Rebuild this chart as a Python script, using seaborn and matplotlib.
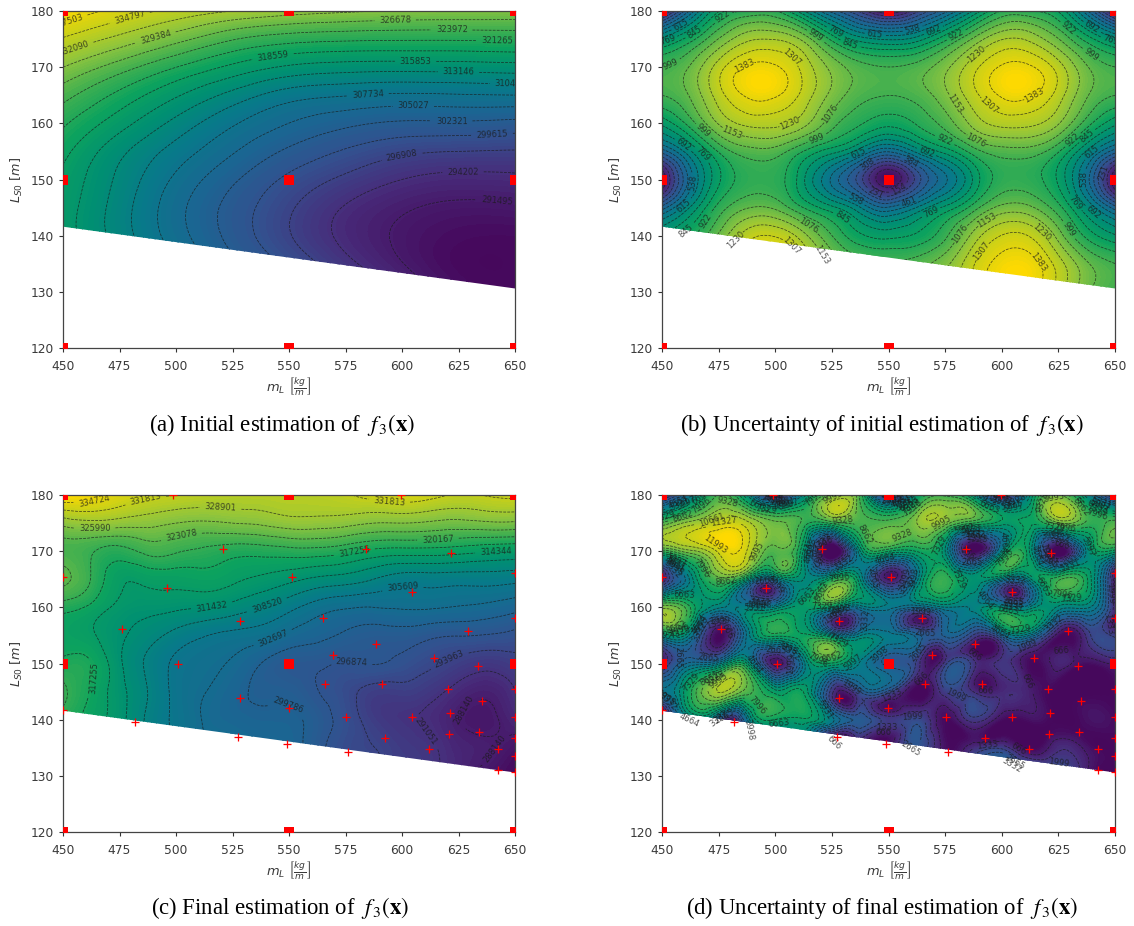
import numpy as np
import matplotlib
matplotlib.use("Agg")
import matplotlib.pyplot as plt
import matplotlib.tri as mtri
from matplotlib.patches import Polygon
import seaborn as sns

# ---------- values ----------
a_x = [450, 475, 500, 525, 550, 575, 600, 625, 650]
a_y = [180, 175, 170, 165, 160, 155, 150, 145, 140, 135, 130]
a_z = [
 [339700, 336500, 334000, 332090, 330700, 329800, 329200, 329000, 328800],
 [334500, 331200, 327700, 324200, 322400, 321800, 321600, 321600, 321800],
 [329400, 325300, 321300, 317900, 315400, 314500, 314300, 314400, 314700],
 [325000, 320500, 316200, 312200, 309000, 307900, 307300, 307500, 307700],
 [321700, 317000, 312300, 308100, 305000, 303000, 301900, 301900, 301500],
 [319400, 313900, 309300, 305300, 301800, 299300, 297500, 296900, 296700],
 [317900, 312500, 307200, 302800, 299000, 296300, 294200, 293400, 293600],
 [317300, 311800, 306000, 301300, 297300, 294000, 291900, 290900, 291100],
 [317200, 311900, 306300, 301400, 297100, 293500, 291000, 289500, 289300],
 [319000, 313800, 308300, 303100, 299000, 295000, 291600, 289100, 288900],
 [322000, 317000, 311500, 306000, 302000, 298000, 293800, 290000, 288800],
]
a_levels = [291495, 294202, 296908, 299615, 302321, 305027, 307734, 310440, 313146, 315853,
            318559, 321265, 323972, 326678, 329384, 332090, 334797, 337503]
a_labels = [(337503, 452, 178.3), (334797, 480, 178.2), (332090, 456, 171.8), (329384, 491, 175.3),
            (326678, 597, 178), (323972, 622, 175.9), (321265, 642, 173.7), (318559, 543, 172),
            (315853, 606, 171), (313146, 625, 169), (310440, 648, 167.5), (307734, 585, 165),
            (305027, 605, 163), (302321, 622, 160), (299615, 640, 157.2), (296908, 600, 154.3),
            (294202, 627, 151), (291495, 642, 146.4)]

b_x = [450, 462.5, 475, 487.5, 500, 512.5, 525, 537.5, 550, 562.5, 575, 587.5, 600, 612.5, 625, 637.5, 650]
b_y = [180, 175, 170, 165, 160, 155, 150, 145, 140, 135, 130]
b_z = [
 [10, 480, 840, 930, 930, 700, 430, 210, 10, 210, 430, 700, 930, 930, 840, 480, 10],
 [720, 890, 1080, 1210, 1225, 1130, 900, 730, 680, 730, 900, 1090, 1225, 1210, 1080, 890, 720],
 [1000, 1085, 1270, 1395, 1395, 1280, 1130, 1030, 1000, 1030, 1130, 1280, 1395, 1395, 1270, 1085, 1000],
 [1000, 1085, 1270, 1395, 1395, 1280, 1130, 1030, 1000, 1030, 1130, 1280, 1395, 1395, 1270, 1085, 1000],
 [790, 960, 1160, 1250, 1255, 1180, 1030, 930, 870, 930, 1030, 1180, 1255, 1250, 1160, 960, 790],
 [420, 680, 930, 1040, 1040, 920, 800, 640, 470, 640, 800, 960, 1040, 1040, 930, 680, 420],
 [5, 500, 830, 955, 955, 780, 520, 260, 5, 260, 520, 780, 955, 955, 830, 500, 5],
 [420, 700, 950, 1070, 1060, 920, 790, 620, 470, 620, 790, 960, 1100, 1090, 950, 700, 420],
 [780, 900, 1090, 1270, 1300, 1180, 1000, 860, 820, 860, 980, 1180, 1310, 1300, 1120, 900, 780],
 [1000, 1090, 1270, 1400, 1420, 1300, 1130, 1040, 1010, 1040, 1130, 1300, 1420, 1420, 1270, 1090, 1000],
 [1000, 1090, 1270, 1400, 1420, 1300, 1130, 1040, 1000, 1040, 1130, 1300, 1420, 1420, 1270, 1090, 1000],
]
b_peak_x = [494, 606, 494, 606]
b_peak_y = [167.3, 167.3, 133.5, 133.5]
b_peak_z = [1458, 1458, 1458, 1458]
b_levels = [77, 154, 231, 308, 384, 461, 538, 615, 692, 769, 845, 922, 999, 1076, 1153, 1230, 1307, 1383]
b_labels = [(1383, 485.6, 171), (1307, 508.2, 172.2), (999, 454.1, 170.4), (769, 453, 174.3), (845, 464.8, 175.8),
            (615, 458.9, 177), (922, 477.2, 178.8), (1230, 506.6, 159.5), (1153, 480.4, 157.8), (999, 468.4, 158.7),
            (692, 460, 156.5), (769, 467.3, 154.2), (538, 462, 149.5), (615, 460, 145.2), (922, 467.3, 143.1),
            (845, 459.4, 141.5), (1076, 525.7, 161.2), (999, 518.2, 157.6), (615, 535.5, 155.7), (308, 540.8, 152.5),
            (384, 559.9, 153.2), (154, 553.8, 148.9), (231, 545.2, 148.2), (538, 535.5, 146.4), (461, 559.1, 146.1),
            (692, 567.8, 156.1), (769, 569.4, 143.7), (845, 528.9, 142.8), (1076, 515.3, 142.3), (1153, 524.1, 137.5),
            (1307, 508.2, 138.7), (1230, 479.6, 140.5), (1153, 593.2, 142.8), (1076, 579.7, 140.8), (1307, 589.3, 137.8),
            (1230, 618.7, 141.1), (1383, 618.4, 136), (1153, 576.1, 162.7), (1307, 591.7, 162.1), (1383, 616, 163.6),
            (1230, 587.7, 172.8), (922, 578.9, 176.4), (922, 575.8, 157.7), (1076, 588.5, 156.8), (692, 569.4, 177),
            (538, 560.6, 177), (615, 544, 175.9), (845, 533.6, 174.9), (769, 527.3, 176.7), (999, 518.2, 175.8),
            (922, 630.6, 157.4), (845, 635.4, 158.9), (615, 639, 155.3), (538, 636.5, 150.1), (231, 645.4, 151.2),
            (769, 633, 146.1), (692, 640.1, 144), (999, 632.2, 141.7), (922, 629, 176.7), (999, 639.3, 172.2),
            (692, 639.3, 176.7), (769, 647.3, 174)]

c_x = b_x
c_y = b_y
c_z = [
 [337500, 336500, 334000, 332500, 331800, 331000, 330500, 330500, 330500, 330800, 331500, 332800, 333500, 332800, 331500, 332000, 332500],
 [327000, 328000, 327500, 327000, 326000, 325500, 326000, 326500, 327500, 327500, 327000, 326000, 326000, 325500, 325000, 325500, 325500],
 [322000, 320500, 319000, 321000, 320500, 319500, 318500, 318500, 319000, 319000, 318000, 316500, 316000, 316000, 315500, 314700, 314300],
 [323700, 320000, 315000, 315200, 315500, 316000, 315000, 313700, 312300, 310800, 310000, 308500, 307000, 307000, 306800, 306900, 306500],
 [318500, 316500, 313500, 312500, 312000, 311500, 310300, 308600, 306500, 304200, 303000, 302700, 303000, 303000, 302500, 301900, 300800],
 [316200, 314800, 312000, 309800, 307500, 305800, 304800, 304000, 302000, 300600, 299300, 298500, 298500, 297500, 297000, 296700, 296000],
 [318000, 317400, 312000, 308000, 305000, 303500, 302300, 299800, 298000, 297500, 296700, 297000, 296000, 294500, 293000, 292000, 293000],
 [320800, 317000, 312500, 308500, 304800, 302800, 301000, 299300, 299000, 297000, 295000, 293000, 293000, 292000, 290000, 288800, 291000],
 [319000, 316000, 312500, 308000, 305000, 302500, 301300, 300500, 300400, 298500, 295500, 292800, 291500, 290500, 288300, 287500, 289500],
 [318000, 315000, 312000, 308000, 305000, 303000, 303000, 302000, 301000, 298000, 295000, 294000, 292500, 291500, 289500, 288500, 286800],
 [318000, 315000, 312000, 308000, 305000, 303000, 303000, 302000, 301000, 298000, 296000, 295000, 293000, 291500, 289500, 287000, 285500],
]
c_levels = [288140, 291051, 293963, 296874, 299786, 302697, 305609, 308520, 311432, 314344,
            317255, 320167, 323078, 325990, 328901, 331813, 334724]
c_labels = [(334724, 464.7, 177.4), (331813, 487.1, 178.2), (328901, 519.6, 177), (331813, 594.1, 177.7),
            (325990, 464, 174), (323078, 502.2, 173), (317255, 578.3, 171.1), (320167, 615.9, 172.1),
            (314344, 641.5, 170.2), (305609, 600.4, 163.2), (311432, 516, 159.9), (308520, 540.1, 160.7),
            (302697, 544.7, 152.8), (296874, 577.5, 149.6), (293963, 621.3, 150.4), (299786, 549.1, 141.8),
            (317255, 467, 147.2), (288140, 628, 141.5), (291051, 609.1, 137.1), (288140, 641.5, 134.7)]

# panel (d): background values plus the low values at the evaluated points
d_x = b_x
d_y = b_y
d_z = [
 [500, 4500, 8800, 6000, 500, 5500, 9400, 8500, 500, 6500, 8500, 6000, 500, 6000, 9500, 5500, 500],
 [8800, 10300, 11300, 10900, 9500, 8400, 8200, 8800, 9000, 9995, 9700, 8000, 7000, 7500, 9200, 8500, 9000],
 [8300, 9800, 11500, 11300, 9000, 6500, 3000, 6000, 7400, 7400, 6000, 3000, 5500, 6500, 3000, 5500, 7000],
 [1500, 5500, 9000, 6500, 4500, 6000, 8200, 6000, 5000, 5000, 8200, 6500, 5000, 5800, 8500, 7500, 2500],
 [9800, 8000, 5500, 5400, 5500, 7000, 6300, 4800, 5000, 4000, 5300, 5500, 6000, 5500, 5800, 5500, 3900],
 [5800, 5000, 2000, 4800, 7800, 7500, 5500, 5300, 5000, 3700, 3500, 2700, 3600, 4600, 2400, 1500, 1800],
 [800, 4200, 5000, 6700, 1000, 5000, 7200, 5200, 3000, 1800, 1700, 1600, 1600, 1500, 1000, 500, 800],
 [4800, 7800, 10000, 9000, 7000, 7300, 4000, 2700, 2500, 1500, 1800, 1300, 1100, 800, 300, 250, 300],
 [3000, 5000, 3000, 4500, 7300, 7200, 5000, 3200, 1700, 2300, 1500, 1700, 600, 300, 200, 300, 300],
 [3000, 5000, 5000, 5000, 7000, 7000, 2500, 1700, 500, 2700, 1000, 1200, 1800, 500, 1200, 400, 200],
 [3000, 5000, 5000, 5000, 7000, 7000, 2500, 1700, 1000, 2700, 1500, 2000, 4000, 4000, 3000, 800, 100],
]
d_levels = [666, 1333, 1999, 2665, 3332, 3998, 4664, 5331, 5997, 6663, 7329, 7996, 8662, 9328,
            9995, 10661, 11327, 11993]
d_peak_x = [477, 502, 628, 523, 576, 476]
d_peak_y = [172.5, 156.5, 163.2, 164.1, 164.7, 146.7]
d_peak_z = [12650, 8400, 8700, 8400, 8400, 10500]

sample_x = [520.6, 584.2, 621.7, 650, 450, 551.2, 495.8, 604.4, 564.9, 528.3, 650, 476, 629.3, 588.4, 569.3,
            614.3, 500.7, 633.6, 566, 591.1, 620.2, 650, 528.1, 635.2, 549.9, 621.1, 575.2, 604.4, 650, 482,
            450, 621, 633.9, 527.3, 592.5, 650, 549, 642.3, 612, 576.1, 650, 642.4, 650, 498.8, 599.5]
sample_y = [170.4, 170.4, 169.7, 166.1, 165.4, 165.4, 163.5, 162.7, 158.1, 157.6, 158.1, 156.1, 155.8, 153.4, 151.6,
            151, 150, 149.6, 146.4, 146.4, 145.4, 145.5, 143.9, 143.3, 142.1, 141.2, 140.4, 140.4, 140.5, 139.6,
            141.8, 137.4, 137.8, 137, 136.8, 136.8, 135.7, 134.7, 134.7, 134.3, 133.6, 131, 130.7, 180, 180]
sample_u = [300, 300, 300, 500, 400, 300, 300, 300, 300, 300, 300, 300, 200, 150, 150,
            150, 300, 150, 150, 150, 100, 100, 200, 100, 200, 100, 150, 100, 100, 300,
            300, 100, 100, 200, 150, 100, 150, 100, 100, 150, 100, 100, 100, 300, 300]

square_x = [450, 550, 650, 450, 550, 650, 450, 550, 650]
square_y = [180, 180, 180, 150, 150, 150, 120, 120, 120]

edge_x = [450, 650]
edge_y = [141.6, 130.6]

x_ticks = [450, 475, 500, 525, 550, 575, 600, 625, 650]
y_ticks = [120, 130, 140, 150, 160, 170, 180]
captions = ["(a) Initial estimation of", "(b) Uncertainty of initial estimation of",
            "(c) Final estimation of", "(d) Uncertainty of final estimation of"]
cmap_colors = ["#46085c", "#472d7b", "#33508f", "#1b6592", "#08798a", "#008f72",
               "#0ca25e", "#46b14e", "#8cc43e", "#c8d018", "#ffd900"]

# ---------- style ----------
sns.set_theme(style="ticks")
plt.rcParams["font.family"] = ["DejaVu Sans"]
plt.rcParams["mathtext.fontset"] = "dejavusans"
cmap = sns.blend_palette(cmap_colors, n_colors=256, as_cmap=True)

W, H = 1134, 926
fig = plt.figure(figsize=(W / 100, H / 100), dpi=100, facecolor="white")


def boundary(x):
    return edge_y[0] + (np.asarray(x) - edge_x[0]) * (edge_y[1] - edge_y[0]) / (edge_x[1] - edge_x[0])


def refined(px, py, pz):
    px, py, pz = map(np.asarray, (px, py, pz))
    tris = mtri.Triangulation(px, py * 2.5).triangles
    t = mtri.Triangulation(px, py, tris)
    rt, rz = mtri.UniformTriRefiner(t).refine_field(pz.astype(float), subdiv=3)
    below = rt.y[rt.triangles] < boundary(rt.x[rt.triangles]) - 1.5
    rt.set_mask(below.all(axis=1))
    return rt, rz


def grid_points(xs, ys, zs):
    gx, gy = np.meshgrid(xs, ys)
    return gx.ravel(), gy.ravel(), np.asarray(zs, float).ravel()


def panel(box, pts, levels, vmin, vmax, labels, caption, cap_x, cap_y, samples=False, auto=False):
    l, t, r, b = box
    ax = fig.add_axes([l / W, 1 - b / H, (r - l) / W, (b - t) / H])
    ax.set_xlim(450, 650)
    ax.set_ylim(120, 180)
    rt, rz = refined(*pts)
    poly = Polygon([(450, 180), (650, 180), (650, edge_y[1]), (450, edge_y[0])], transform=ax.transData)
    cf = ax.tricontourf(rt, rz, levels=np.linspace(vmin, vmax, 100), cmap=cmap, extend="both")
    cf.set_clip_path(poly)
    cs = ax.tricontour(rt, rz, levels=levels, colors="k", linewidths=0.55, linestyles="--", alpha=0.75)
    cs.set_clip_path(poly)
    if auto:
        ax.clabel(cs, fmt="%d", fontsize=6, inline=True)
    else:
        ax.clabel(cs, fmt="%d", fontsize=6, inline=True, manual=[])
        for lev, x, y in labels:
            cs.labelIndiceList = [list(levels).index(lev)]
            cs.add_label_near(x, y, inline=True, inline_spacing=5)
    if samples:
        sns.scatterplot(x=sample_x, y=sample_y, marker="+", color="red", s=32, linewidth=0.9, ax=ax, zorder=5)
    sns.scatterplot(x=square_x, y=square_y, marker="s", color="red", s=55, linewidth=0, ax=ax, zorder=5)
    ax.set_xlim(450, 650)
    ax.set_ylim(120, 180)
    ax.set_xticks(x_ticks)
    ax.set_yticks(y_ticks)
    ax.tick_params(labelsize=8.8, length=3, width=0.8, color="#333333", labelcolor="#3a3a3a")
    ax.tick_params(axis="x", pad=6)
    ax.tick_params(axis="y", pad=3.5)
    for s in ax.spines.values():
        s.set_linewidth(0.9)
        s.set_color("#444444")
    ax.set_xlabel(r"$m_L\ \left[\frac{kg}{m}\right]$", fontsize=9.4, labelpad=2, color="#3a3a3a")
    ax.set_ylabel(r"$L_{S0}\ [m]$", fontsize=9.2, labelpad=4, color="#3a3a3a")
    fig.text(cap_x / W, 1 - cap_y / H, caption + r"$\ \ f_{\,3}(\mathbf{x})$", ha="center", va="center",
             fontsize=16.4, family="Liberation Serif", math_fontfamily="stix", color="black")
    return ax


boxes = [(63, 11, 515, 348), (662, 11, 1115, 348), (63, 495, 515, 832), (662, 495, 1115, 832)]

panel(boxes[0], grid_points(a_x, a_y, a_z), a_levels, 288789, 340203, a_labels, captions[0], 282, 425)

bx, by, bz = grid_points(b_x, b_y, b_z)
panel(boxes[1], (np.r_[bx, b_peak_x], np.r_[by, b_peak_y], np.r_[bz, b_peak_z]),
      b_levels, 0, 1460, b_labels, captions[1], 882, 425)

panel(boxes[2], grid_points(c_x, c_y, c_z), c_levels, 285228, 337636, c_labels, captions[2], 280, 908, samples=True)

# panel (d) mixes the grid with the evaluated points; grid nodes too close to them are dropped
gx, gy, gz = grid_points(d_x, d_y, d_z)
sx = np.asarray(sample_x + d_peak_x, float)
sy = np.asarray(sample_y + d_peak_y, float)
su = np.asarray(sample_u + d_peak_z, float)
dist = np.sqrt((gx[:, None] - sx) ** 2 + (2.5 * (gy[:, None] - sy)) ** 2).min(axis=1)
keep = dist > 5.0
dx = np.r_[gx[keep], sx]
dy = np.r_[gy[keep], sy]
dz = np.r_[gz[keep], su]
panel(boxes[3], (dx, dy, dz), d_levels, 0, 12660, None, captions[3], 882, 908, samples=True, auto=True)

fig.savefig("out.png", dpi=100, facecolor="white")
